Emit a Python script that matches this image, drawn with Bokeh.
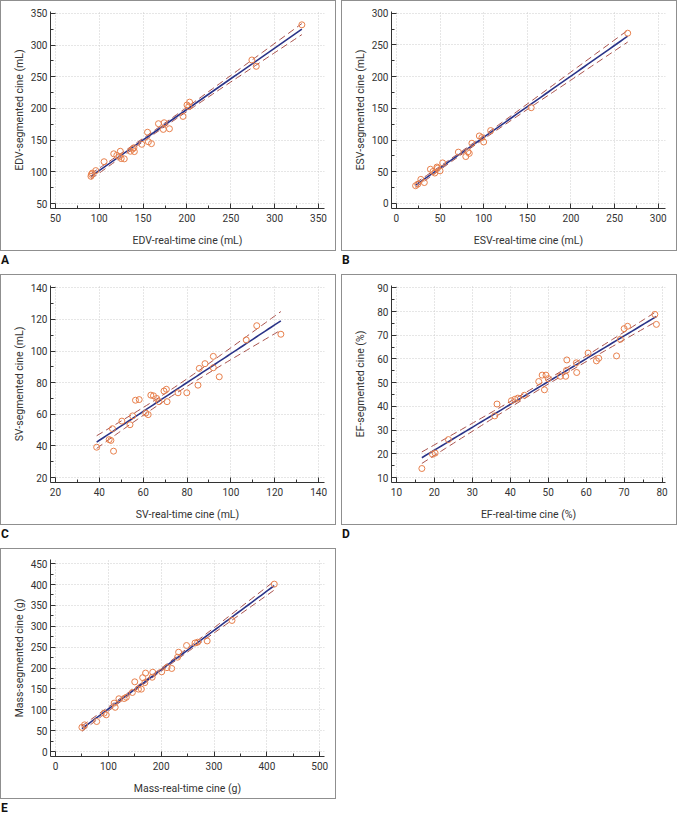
import numpy as np
from bokeh.plotting import figure
from bokeh.models import SingleIntervalTicker, Range1d, Div
from bokeh.layouts import column, row
from bokeh.embed import file_html
from bokeh.resources import INLINE

# ---------------- data ----------------
edv_rt = [90.5, 92, 96, 91, 105.5, 116.5, 120, 124, 125, 128.5, 123, 135.5, 138, 139.5, 140,
          148.5, 155, 156, 159.5, 167.5, 173, 174, 180, 195.5, 200, 203, 202, 274, 279, 331]
edv_seg = [93, 98, 102, 96, 116, 128.5, 126, 132.5, 121, 120.5, 124, 132.5, 136, 138, 132,
           143.5, 162.5, 147.5, 144.5, 176, 167, 177.5, 168, 187.5, 205.5, 210, 203, 276.5, 266.5, 332]

esv_rt = [22, 24.5, 28, 32, 39, 42, 44, 46.5, 50, 53, 47, 71, 79.5, 82, 83.5, 86.5, 95, 100,
          98, 108, 154.5, 265]
esv_seg = [28, 30.5, 38, 33, 54, 50.5, 48, 57.5, 51.5, 64, 55.5, 81, 74, 81.5, 79, 95, 106.5,
           97, 104, 115, 151, 268.5]

sv_rt = [38.8, 44.5, 45.3, 46.5, 46, 50.3, 54, 55.2, 56.5, 58.2, 61.2, 62.3, 63.5, 64.7, 66.2,
         67.2, 69.5, 70.6, 70.9, 75.9, 79.9, 85, 85.6, 88.2, 92, 92, 94.7, 107, 111.8, 122.8]
sv_seg = [39.2, 44, 43.5, 36.7, 50.9, 55.7, 53.4, 59, 68.9, 69.3, 60.8, 59.8, 72.1, 71.7, 70,
          68, 74.7, 75.8, 68, 73.6, 73.6, 78.4, 89, 92, 96.6, 89.4, 83.7, 107, 116, 110.6]

ef_rt = [16.7, 19.5, 20.2, 23.7, 36.5, 35.9, 40.3, 41.2, 42, 43.7, 47.5, 48.4, 49.4, 49, 50,
         53.2, 54.6, 54.9, 54.8, 57.5, 57.4, 60.5, 62.7, 63.3, 68, 69, 70, 70.9, 78.1, 78.5]
ef_seg = [13.8, 19.8, 20.3, 26, 41, 36, 42.4, 43, 43.5, 44.7, 50.5, 53.2, 53.2, 47, 51.7,
          52.7, 52.7, 59.6, 55.2, 54.3, 58.4, 62.5, 59.2, 60.3, 61.3, 68.3, 72.8, 73.8, 78.8, 74.6]

mass_rt = [50, 55, 78, 96, 92, 111, 113, 120, 130, 134, 145.5, 150, 157, 162.5, 165, 170.5,
           169, 184, 183, 201, 211, 220, 233, 231, 248, 264, 269, 287, 334, 414]
mass_seg = [58, 64, 72, 88, 92, 116, 106, 126.5, 127, 130, 141.5, 167, 149.5, 149.5, 177, 188,
            165, 190, 178, 191, 201, 199, 238, 226, 254, 260, 262, 265, 314, 401]

x_titles = ["EDV-real-time cine (mL)", "ESV-real-time cine (mL)", "SV-real-time cine (mL)",
            "EF-real-time cine (%)", "Mass-real-time cine (g)"]
y_titles = ["EDV-segmented cine (mL)", "ESV-segmented cine (mL)", "SV-segmented cine (mL)",
            "EF-segmented cine (%)", "Mass-segmented cine (g)"]
letters = ["A", "B", "C", "D", "E"]

# ---------------- style ----------------
FONT = "Roboto"
MARKER = "#E8804C"
REG = "#2B3488"
CI = "#A9524C"
AXIS = "#333333"
T975 = 2.05


def fit_lines(xs, ys):
    x = np.asarray(xs, float)
    y = np.asarray(ys, float)
    n = len(x)
    b, a = np.polyfit(x, y, 1)
    xx = np.linspace(x.min(), x.max(), 60)
    yh = a + b * xx
    resid = y - (a + b * x)
    s = np.sqrt(np.sum(resid ** 2) / (n - 2))
    sxx = np.sum((x - x.mean()) ** 2)
    half = T975 * s * np.sqrt(1.0 / n + (xx - x.mean()) ** 2 / sxx)
    return xx, yh, yh - half, yh + half


BW, BH = 336, 251


def panel(xs, ys, xr, yr, xint, yint, xt, yt, letter, ylab_standoff, letter_h):
    frame_bottom = BH - 43
    p = figure(width=BW, height=BH, x_range=Range1d(*xr), y_range=Range1d(*yr),
               output_backend="svg", toolbar_location=None, tools="",
               min_border_left=50, min_border_right=12,
               min_border_top=11, min_border_bottom=BH - frame_bottom,
               styles={"outline": "1px solid #8f8f8f", "outline-offset": "-1px"})
    p.outline_line_color = None
    p.background_fill_color = None
    p.border_fill_color = None

    xtick = SingleIntervalTicker(interval=xint, num_minor_ticks=2)
    ytick = SingleIntervalTicker(interval=yint, num_minor_ticks=2)
    p.xaxis.ticker = xtick
    p.yaxis.ticker = ytick
    p.xgrid.ticker = xtick
    p.ygrid.ticker = ytick
    p.grid.grid_line_color = "#cccccc"
    p.grid.grid_line_dash = "1 2"
    p.grid.grid_line_width = 1

    for ax in (p.xaxis, p.yaxis):
        ax.axis_line_color = AXIS
        ax.major_tick_line_color = AXIS
        ax.minor_tick_line_color = AXIS
        ax.major_tick_in = 5
        ax.major_tick_out = 0
        ax.minor_tick_in = 3
        ax.minor_tick_out = 0
        ax.major_label_text_font = FONT
        ax.major_label_text_font_size = "10px"
        ax.major_label_text_color = AXIS
        ax.axis_label_text_font = FONT
        ax.axis_label_text_font_size = "10.5px"
        ax.axis_label_text_font_style = "normal"
        ax.axis_label_text_color = AXIS
    p.xaxis.major_label_standoff = 5
    p.yaxis.major_label_standoff = 3
    p.xaxis.axis_label = xt
    p.yaxis.axis_label = yt
    p.xaxis.axis_label_standoff = 9
    p.yaxis.axis_label_standoff = ylab_standoff

    xx, yh, lo, hi = fit_lines(xs, ys)
    p.line(xx, lo, line_color=CI, line_width=1, line_dash="7 4")
    p.line(xx, hi, line_color=CI, line_width=1, line_dash="7 4")
    p.line(xx, yh, line_color=REG, line_width=1.6)
    p.scatter(xs, ys, marker="circle", size=6, fill_color=None, line_color=MARKER,
              line_width=1)

    lab = Div(text=letter, width=BW, height=letter_h, margin=0,
              styles={"font-family": "Roboto, sans-serif", "font-size": "12px",
                      "font-weight": "bold", "color": "#111111",
                      "padding-top": "3px", "padding-left": "1px",
                      "line-height": "12px"})
    return column(p, lab, spacing=0)


pA = panel(edv_rt, edv_seg, (44.4, 356.8), (42.2, 353), 50, 50, x_titles[0], y_titles[0],
           letters[0], 2, 23)
pB = panel(esv_rt, esv_seg, (-5.6, 308.3), (-7.9, 302.7), 50, 50, x_titles[1], y_titles[1],
           letters[1], 2, 23)
pC = panel(sv_rt, sv_seg, (17.75, 142.7), (16.9, 141.4), 20, 20, x_titles[2], y_titles[2],
           letters[2], 2, 23)
pD = panel(ef_rt, ef_seg, (8.7, 80.9), (7.9, 91), 10, 10, x_titles[3], y_titles[3],
           letters[3], 7, 23)
pE = panel(mass_rt, mass_seg, (-9.4, 509), (-11.8, 460), 100, 50, x_titles[4], y_titles[4],
           letters[4], 2, 15)

layout = column(row(pA, pB, spacing=5), row(pC, pD, spacing=5), pE, spacing=0)
open("out.html", "w").write(file_html(layout, INLINE))
